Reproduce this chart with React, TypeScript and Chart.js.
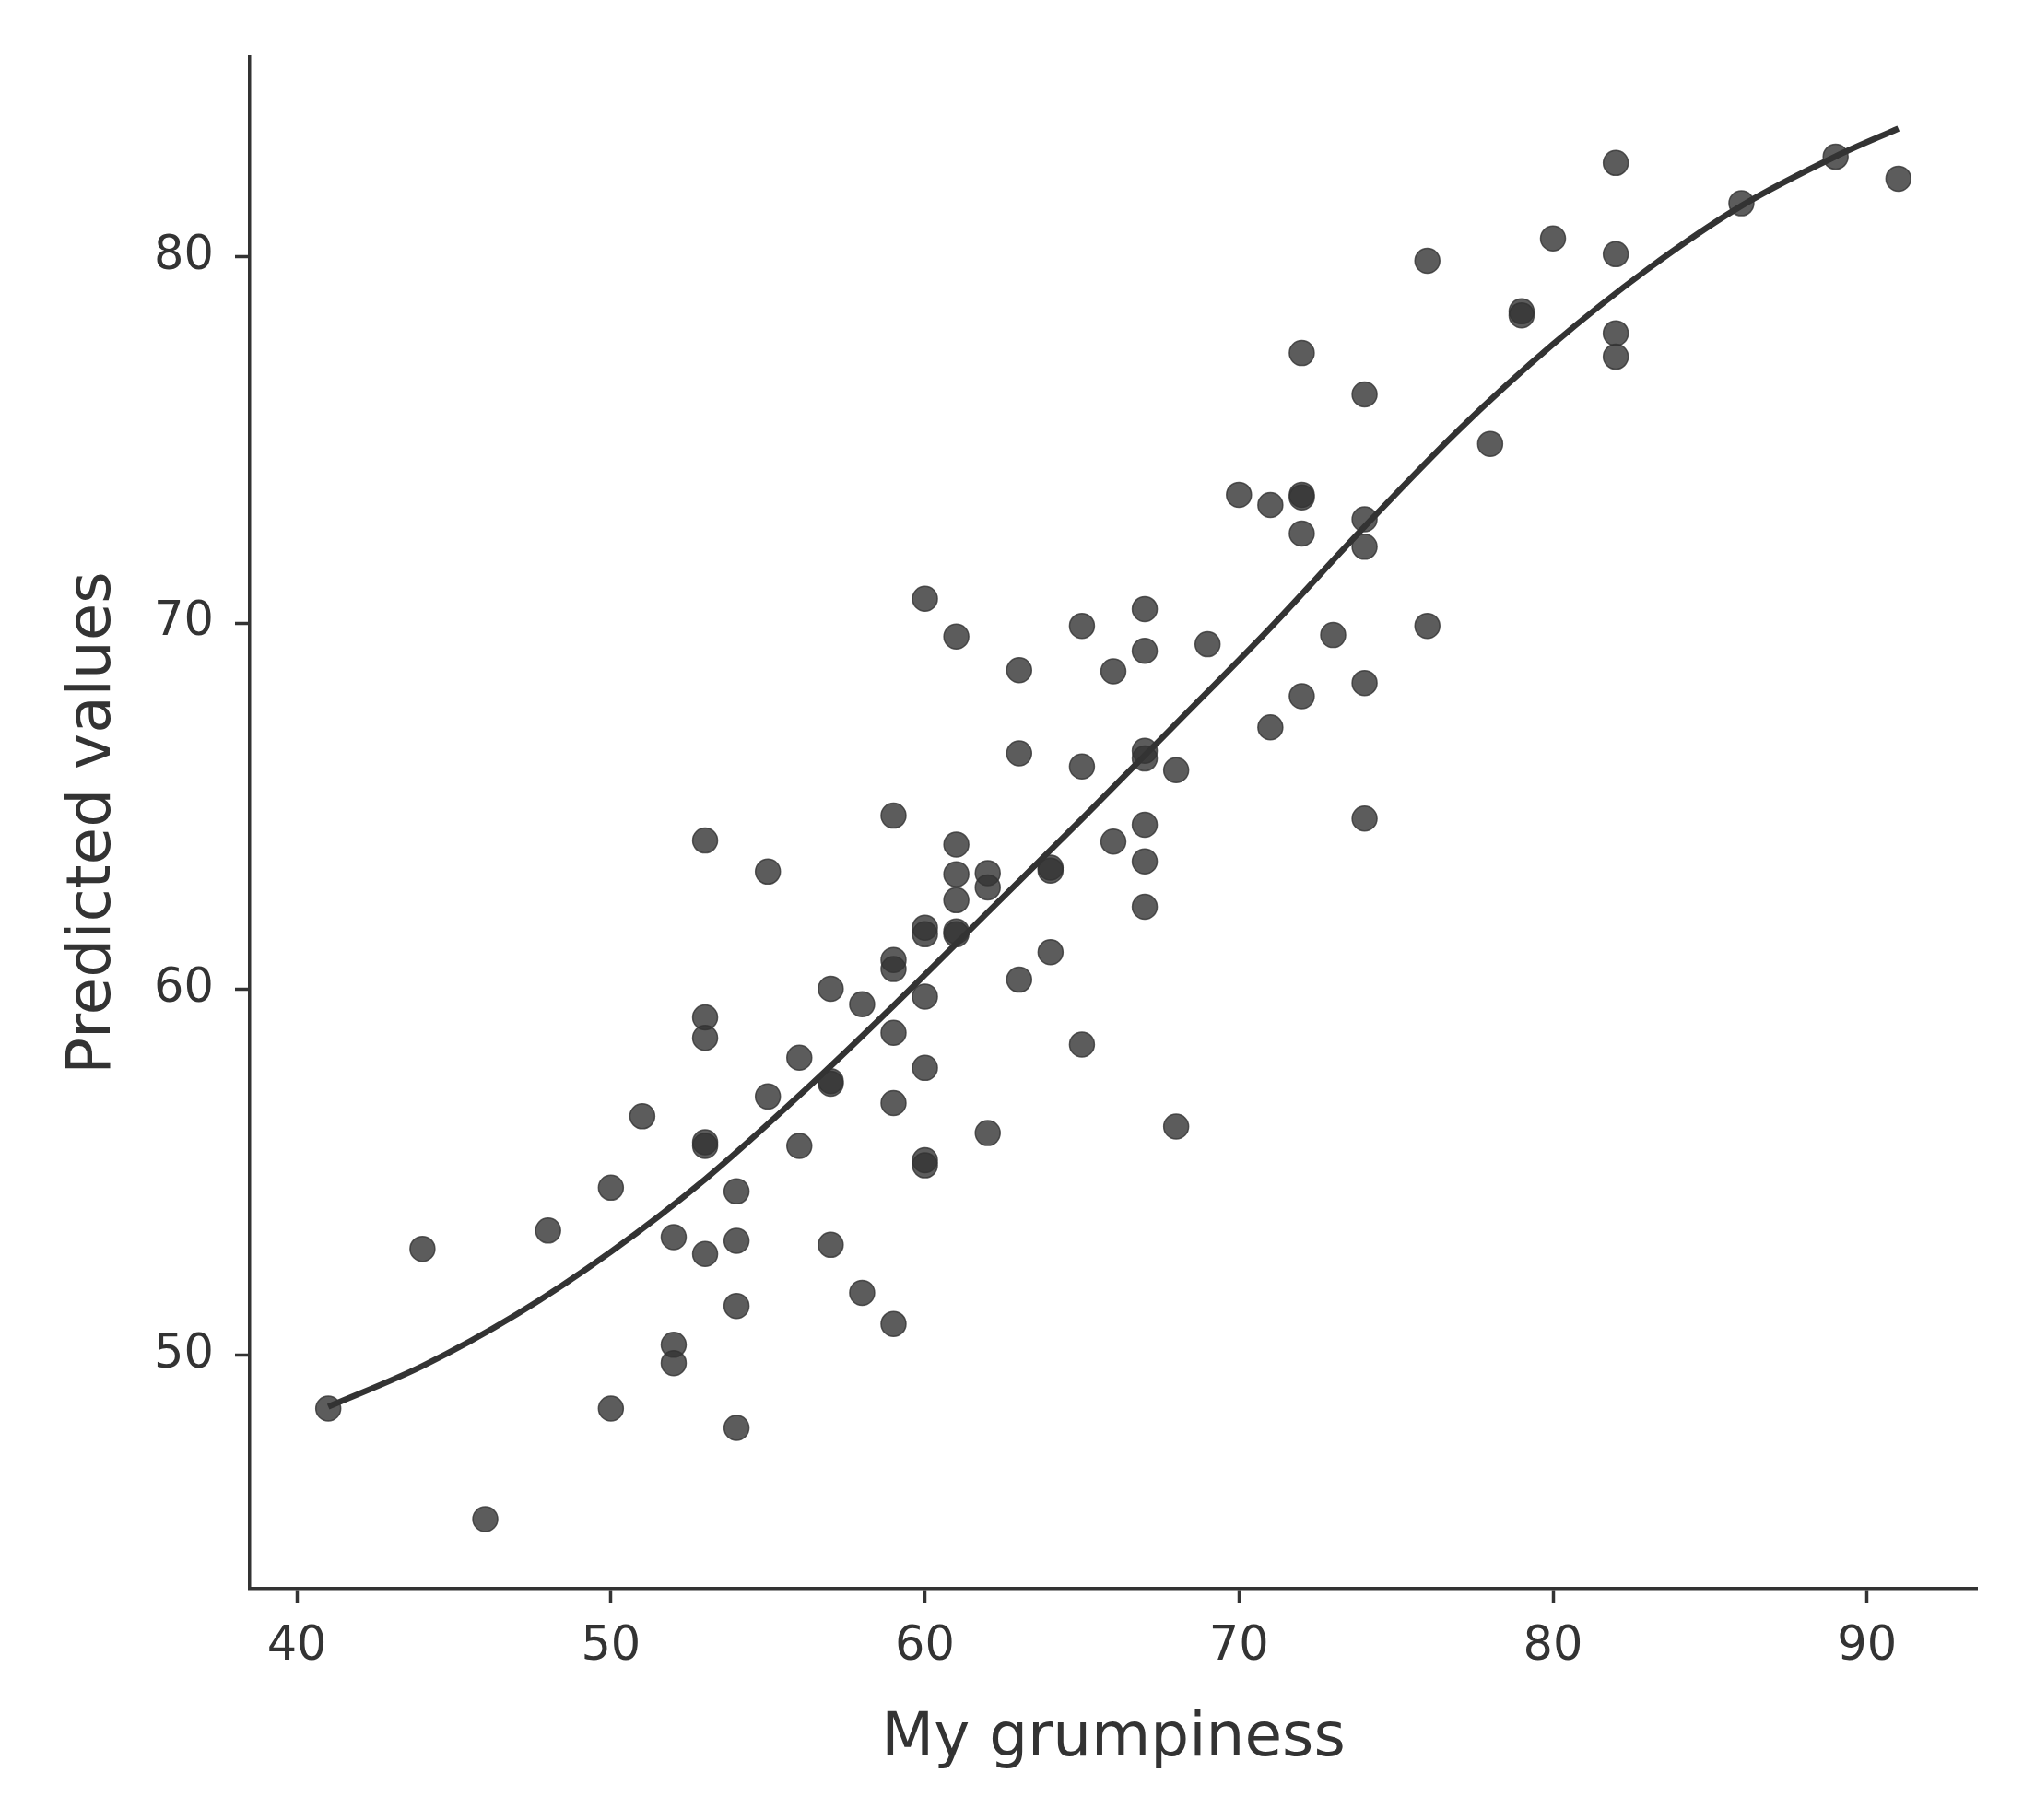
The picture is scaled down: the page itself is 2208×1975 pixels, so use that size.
import { useEffect, useRef } from "react";
import Chart from "chart.js/auto";

// Observed scores: grumpiness (x) against the model's predicted values (y).
const grumpiness = [
  41, 44, 46, 48, 50, 50, 51, 52, 52, 52,
  53, 53, 53, 53, 53, 53, 54, 54, 54, 54,
  55, 55, 56, 56, 57, 57, 57, 57, 58, 58,
  59, 59, 59, 59, 59, 59, 60, 60, 60, 60,
  60, 60, 60, 61, 61, 61, 61, 61, 61, 62,
  62, 62, 63, 63, 63, 64, 64, 64, 65, 65,
  65, 66, 66, 67, 67, 67, 67, 67, 67, 67,
  68, 68, 69, 70, 71, 71, 72, 72, 72, 72,
  72, 73, 74, 74, 74, 74, 74, 76, 76, 78,
  79, 79, 80, 82, 82, 82, 82, 86, 89, 91,
];
const predicted = [
  48.55, 52.91, 45.53, 53.41, 54.58, 48.55, 56.53, 53.23, 50.29, 49.79,
  64.06, 59.23, 58.67, 55.82, 55.72, 52.77, 54.48, 53.13, 51.35, 48.02,
  63.21, 57.07, 58.13, 55.72, 60.01, 57.49, 57.42, 53.02, 59.59, 51.71,
  64.74, 60.8, 60.55, 58.81, 56.89, 50.86, 70.66, 61.68, 61.5, 59.8,
  57.85, 55.33, 55.19, 69.63, 63.95, 63.14, 62.43, 61.58, 61.5, 63.17,
  62.78, 56.07, 68.71, 66.44, 60.26, 63.32, 63.24, 61.01, 69.92, 66.08,
  58.49, 68.68, 64.03, 70.38, 69.24, 66.51, 66.3, 64.49, 63.49, 62.25,
  65.98, 56.25, 69.42, 73.5, 73.22, 67.15, 77.37, 73.5, 73.43, 72.44,
  68.0, 69.67, 76.24, 72.83, 72.08, 68.36, 64.66, 79.89, 69.92, 74.89,
  78.51, 78.4, 80.5, 82.56, 80.07, 77.91, 77.27, 81.46, 82.73, 82.13,
];

// Smooth fitted curve, sampled along grumpiness.
const fitX = [41, 44, 47, 50, 53, 56, 59, 62, 65, 68, 71, 74, 77, 80, 83, 86, 89, 91];
const fitY = [48.6, 49.71, 51.12, 52.83, 54.81, 57.1, 59.55, 62.1, 64.65, 67.25, 69.87, 72.63, 75.27, 77.61, 79.65, 81.39, 82.74, 83.5];

const xTicks = [40, 50, 60, 70, 80, 90];
const yTicks = [50, 60, 70, 80];

const INK = "#333333";
const FONT = '"DejaVu Sans", sans-serif';

export default function App() {
  const canvasRef = useRef<HTMLCanvasElement>(null);

  useEffect(() => {
    const ctx = canvasRef.current?.getContext("2d");
    if (!ctx) return;
    const axisCommon = {
      grid: { drawOnChartArea: false, drawTicks: true, tickLength: 16, tickWidth: 3.5, tickColor: INK },
      border: { display: true, color: INK, width: 3.5 },
    };
    const chart = new Chart(ctx, {
      type: "scatter",
      data: {
        datasets: [
          {
            type: "line",
            label: "fit",
            data: fitX.map((x, i) => ({ x, y: fitY[i] })),
            borderColor: INK,
            borderWidth: 6.5,
            pointRadius: 0,
            cubicInterpolationMode: "monotone",
            fill: false,
          },
          {
            label: "observed",
            data: grumpiness.map((x, i) => ({ x, y: predicted[i] })),
            backgroundColor: "rgba(51, 51, 51, 0.8)",
            borderColor: "rgba(51, 51, 51, 0.8)",
            borderWidth: 1.5,
            pointRadius: 13.5,
          },
        ],
      },
      options: {
        animation: false,
        responsive: true,
        maintainAspectRatio: false,
        layout: { padding: { left: 0, top: 62, right: 63, bottom: 0 } },
        plugins: { legend: { display: false }, tooltip: { enabled: false } },
        scales: {
          x: {
            type: "linear",
            min: 38.5,
            max: 93.5,
            ...axisCommon,
            afterFit: (s: any) => { s.height = 251; },
            afterBuildTicks: (s: any) => { s.ticks = xTicks.map((v) => ({ value: v })); },
            ticks: { color: INK, padding: 17, font: { family: FONT, size: 51 } },
            title: {
              display: true,
              text: "My grumpiness",
              color: INK,
              font: { family: FONT, size: 66 },
              padding: { top: 0, bottom: 48 },
            },
          },
          y: {
            type: "linear",
            min: 43.63,
            max: 85.45,
            ...axisCommon,
            afterFit: (s: any) => { s.width = 271; },
            afterBuildTicks: (s: any) => { s.ticks = yTicks.map((v) => ({ value: v })); },
            ticks: { color: INK, padding: 23, font: { family: FONT, size: 51 } },
            title: {
              display: true,
              text: "Predicted values",
              color: INK,
              font: { family: FONT, size: 66 },
              padding: { top: 62, bottom: 0 },
            },
          },
        },
      },
    });
    return () => chart.destroy();
  }, []);

  return (
    <div style={{ position: "absolute", left: 0, top: 0, width: 2208, height: 1975, background: "#fff" }}>
      <canvas ref={canvasRef} />
    </div>
  );
}
